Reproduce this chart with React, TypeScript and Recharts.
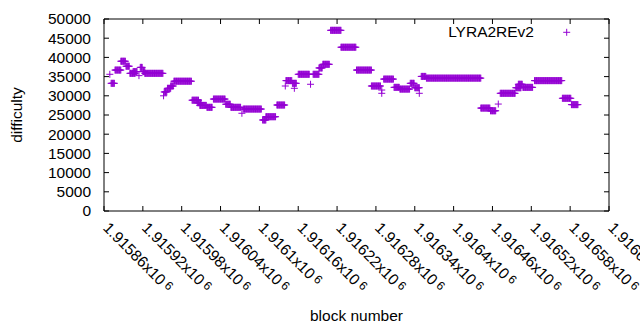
import React from 'react'
import { ScatterChart, Scatter, XAxis, YAxis, ReferenceArea } from 'recharts'

const WIDTH = 640
const HEIGHT = 330
const PLOT = { left: 104, right: 609, top: 19, bottom: 211 }
const FONT = '"Liberation Sans", Arial, sans-serif'
const FONT_SIZE = 15.5
const PURPLE = '#9400d3'

// difficulty stays flat over runs of blocks: first block, last block, difficulty
const runFirstBlock = [
  1915869, 1915871, 1915877, 1915886, 1915894, 1915900, 1915905, 1915914, 1915916, 1915920,
  1915923, 1915952, 1915953, 1915958, 1915963, 1915968, 1915996, 1916004, 1916008, 1916019,
  1916029, 1916048, 1916056, 1916073, 1916075, 1916105, 1916110, 1916127, 1916140, 1916141,
  1916151, 1916154, 1916160, 1916179, 1916183, 1916192, 1916198, 1916210, 1916226, 1916250,
  1916273, 1916289, 1916289, 1916292, 1916308, 1916317, 1916333, 1916340, 1916347, 1916350,
  1916358, 1916442, 1916457, 1916469, 1916472, 1916496, 1916500, 1916507, 1916525, 1916568,
  1916582,
]
const runLastBlock = [
  1915869, 1915876, 1915886, 1915893, 1915899, 1915908, 1915911, 1915914, 1915919, 1915923,
  1915951, 1915952, 1915957, 1915963, 1915967, 1915995, 1916006, 1916010, 1916018, 1916027,
  1916047, 1916055, 1916071, 1916073, 1916103, 1916110, 1916125, 1916139, 1916140, 1916150,
  1916157, 1916154, 1916177, 1916179, 1916192, 1916197, 1916208, 1916226, 1916249, 1916273,
  1916287, 1916289, 1916289, 1916307, 1916316, 1916332, 1916339, 1916347, 1916347, 1916357,
  1916442, 1916456, 1916465, 1916469, 1916495, 1916504, 1916506, 1916522, 1916567, 1916581,
  1916592,
]
const runDifficulty = [
  35600, 33250, 36700, 39000, 37700, 35850, 36300, 35250, 37400, 36300,
  35850, 30000, 31000, 31950, 32550, 33800, 28850, 28200, 27500, 27000,
  29150, 27800, 27000, 25450, 26550, 23700, 24550, 27600, 32550, 33950,
  33250, 31950, 35600, 33000, 35600, 37250, 38200, 47050, 42650, 36700,
  32550, 31500, 30650, 34350, 32200, 31750, 33250, 32100, 30650, 35050,
  34600, 26800, 26100, 27850, 30650, 32100, 33000, 32200, 33950, 29350,
  27700,
]

const xTicks = [
  1915860, 1915920, 1915980, 1916040, 1916100, 1916160, 1916220,
  1916280, 1916340, 1916400, 1916460, 1916520, 1916580, 1916640,
]
const xTickLabels = [
  '1.91586', '1.91592', '1.91598', '1.91604', '1.9161', '1.91616', '1.91622',
  '1.91628', '1.91634', '1.9164', '1.91646', '1.91652', '1.91658', '1.91664',
]
const yTicks = [0, 5000, 10000, 15000, 20000, 25000, 30000, 35000, 40000, 45000, 50000]

const points: { block: number; difficulty: number }[] = []
runFirstBlock.forEach((first, i) => {
  for (let b = first; b <= runLastBlock[i]; b++) {
    points.push({ block: b, difficulty: runDifficulty[i] })
  }
})

function Cross({ cx, cy }: any) {
  return <path d={`M${cx - 3.5},${cy}h7M${cx},${cy - 3.5}v7`} stroke={PURPLE} strokeWidth={1} fill="none" />
}

function XTick({ x, payload, index }: any) {
  const label = xTickLabels[index] ?? String(payload.value)
  return (
    <g>
      <line x1={x} x2={x} y1={PLOT.bottom} y2={PLOT.bottom - 5} stroke="#000" />
      <line x1={x} x2={x} y1={PLOT.top} y2={PLOT.top + 5} stroke="#000" />
      <text
        transform={`translate(${x + 2},${PLOT.bottom + 14}) rotate(45)`}
        dy="0.35em"
        fontFamily={FONT}
        fontSize={FONT_SIZE}
        fill="#000"
      >
        {label}x10
        <tspan dx={3} dy={-3} fontSize={12}>6</tspan>
      </text>
    </g>
  )
}

function YTick({ y, payload }: any) {
  return (
    <g>
      <line x1={PLOT.left} x2={PLOT.left + 5} y1={y} y2={y} stroke="#000" />
      <line x1={PLOT.right} x2={PLOT.right - 5} y1={y} y2={y} stroke="#000" />
      <text x={PLOT.left - 13} y={y} dy="0.35em" textAnchor="end" fontFamily={FONT} fontSize={FONT_SIZE} fill="#000">
        {payload.value}
      </text>
    </g>
  )
}

export default function App() {
  return (
    <div style={{ position: 'relative', width: WIDTH, height: HEIGHT, background: '#fff' }}>
      <style>{'body{margin:0}'}</style>
      <ScatterChart
        width={WIDTH}
        height={HEIGHT}
        margin={{ top: PLOT.top, right: WIDTH - PLOT.right, bottom: 0, left: 0 }}
      >
        <XAxis
          type="number"
          dataKey="block"
          domain={[xTicks[0], xTicks[xTicks.length - 1]]}
          ticks={xTicks}
          interval={0}
          height={HEIGHT - PLOT.bottom}
          axisLine={false}
          tickLine={false}
          tickSize={0}
          tickMargin={0}
          tick={<XTick />}
          label={{
            content: () => (
              <text x={(PLOT.left + PLOT.right) / 2} y={320.5} textAnchor="middle" fontFamily={FONT} fontSize={FONT_SIZE} fill="#000">
                block number
              </text>
            ),
          }}
        />
        <YAxis
          type="number"
          dataKey="difficulty"
          domain={[0, 50000]}
          ticks={yTicks}
          interval={0}
          width={PLOT.left}
          axisLine={false}
          tickLine={false}
          tickSize={0}
          tickMargin={0}
          tick={<YTick />}
          label={{
            content: () => (
              <text
                transform={`translate(17,${(PLOT.top + PLOT.bottom) / 2}) rotate(-90)`}
                dy="0.35em"
                textAnchor="middle"
                fontFamily={FONT}
                fontSize={FONT_SIZE}
                fill="#000"
              >
                difficulty
              </text>
            ),
          }}
        />
        <Scatter data={points} name="LYRA2REv2" shape={(p: any) => <Cross {...p} />} isAnimationActive={false} />
        <ReferenceArea
          x1={xTicks[0]}
          x2={xTicks[xTicks.length - 1]}
          y1={0}
          y2={50000}
          fill="none"
          fillOpacity={0}
          stroke="#000"
          strokeWidth={1}
        />
      </ScatterChart>
      <svg width={WIDTH} height={50} style={{ position: 'absolute', left: 0, top: 0, pointerEvents: 'none' }}>
        <text x={534} y={37.3} textAnchor="end" fontFamily={FONT} fontSize={FONT_SIZE} fill="#000">
          LYRA2REv2
        </text>
        <path d="M563.2,32.3h7M566.7,28.8v7" stroke={PURPLE} strokeWidth={1} fill="none" />
      </svg>
    </div>
  )
}
